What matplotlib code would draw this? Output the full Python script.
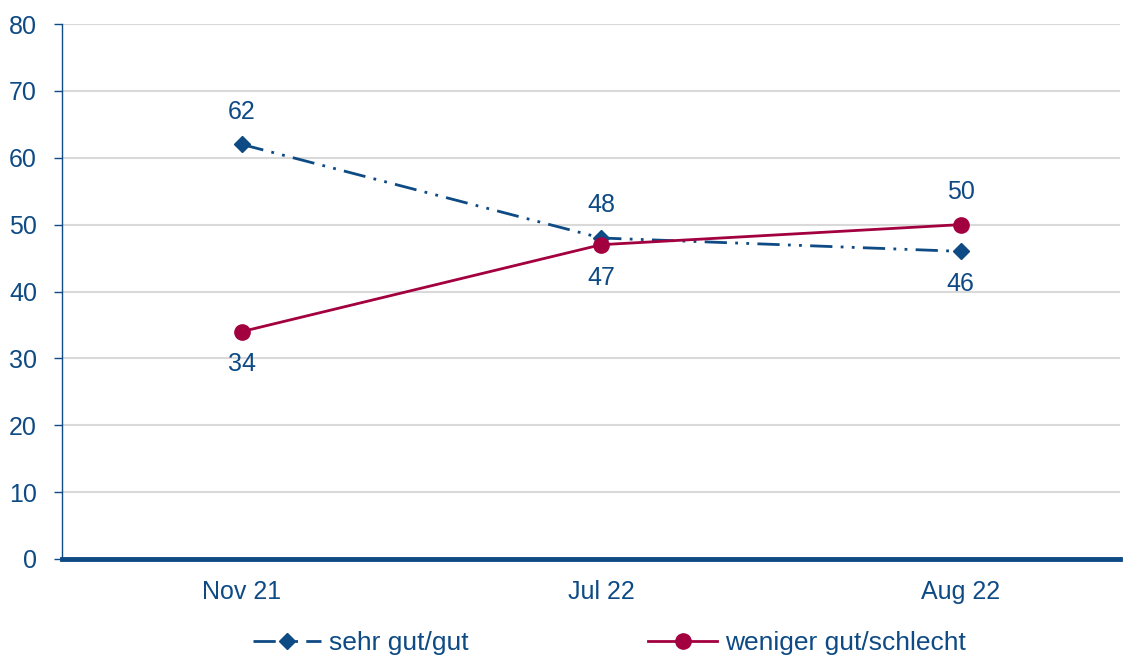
import matplotlib
matplotlib.use("Agg")
import matplotlib.pyplot as plt

plt.rcParams['font.family'] = ['Liberation Sans', 'DejaVu Sans']

categories = ["Nov 21", "Jul 22", "Aug 22"]
sehr_gut = [62, 48, 46]
weniger_gut = [34, 47, 50]
yticks = [0, 10, 20, 30, 40, 50, 60, 70, 80]

BLUE = "#0E4A84"
RED = "#A3003F"
TXT = "#0E4A84"

fig = plt.figure(figsize=(11.28, 6.59), dpi=100)
ax = fig.add_axes([62/1128, 1-559/659, (1120-62)/1128, (559-24)/659])

x = list(range(len(categories)))
ax.plot(x, sehr_gut, color=BLUE, lw=2, linestyle=(0, (8, 3, 1, 3, 1, 3)),
        marker='D', markersize=8, label="sehr gut/gut", zorder=3)
ax.plot(x, weniger_gut, color=RED, lw=2, marker='o', markersize=11,
        label="weniger gut/schlecht", zorder=4)

for xi, v in zip(x, sehr_gut):
    off = 15 if xi < 2 else -15
    va = 'bottom' if off > 0 else 'top'
    ax.annotate(str(v), (xi, v), xytext=(0, off), textcoords='offset points',
                ha='center', va=va, fontsize=18, color=TXT)
for xi, v in zip(x, weniger_gut):
    off = -15 if xi < 2 else 15
    va = 'bottom' if off > 0 else 'top'
    ax.annotate(str(v), (xi, v), xytext=(0, off), textcoords='offset points',
                ha='center', va=va, fontsize=18, color=TXT)

ax.set_xlim(-0.5, 2.443)
ax.set_ylim(0, 80)
ax.set_yticks(yticks)
ax.set_xticks(x)
ax.set_xticklabels(categories)
ax.tick_params(axis='y', colors=BLUE, labelsize=18, length=6, width=1, labelcolor=TXT, pad=12)
ax.tick_params(axis='x', length=0, labelsize=18, labelcolor=TXT, pad=15)
ax.grid(axis='y', color='#D9D9D9', lw=1.5)
ax.set_axisbelow(True)
for s in ['top', 'right']:
    ax.spines[s].set_visible(False)
ax.spines['left'].set_color(BLUE)
ax.spines['left'].set_linewidth(1)
ax.spines['bottom'].set_color(BLUE)
ax.spines['bottom'].set_linewidth(3.5)

leg = fig.legend(loc='lower center', bbox_to_anchor=(0.540, -0.03), ncol=2, frameon=False,
                 fontsize=19, handlelength=2.6, columnspacing=6.8, handletextpad=0.3)
for t in leg.get_texts():
    t.set_color(TXT)

fig.savefig("out.png", dpi=100)
